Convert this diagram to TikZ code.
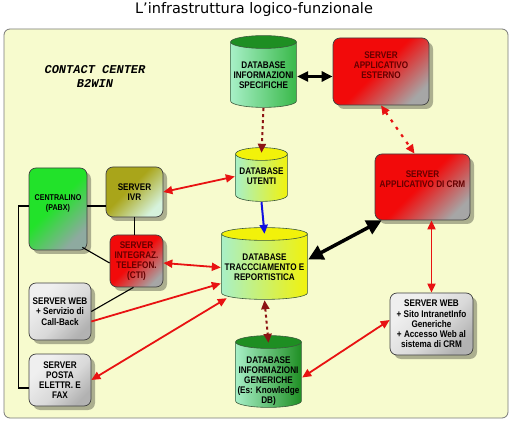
\documentclass[tikz,border=0pt]{standalone}
\usepackage{fontspec}
\setmainfont{Liberation Sans}
\newfontfamily\boxfont[FakeStretch=0.85]{Liberation Sans}
\newfontfamily\titlefont{DejaVu Sans}
\newfontfamily\ccfont{Liberation Mono}
\usetikzlibrary{arrows.meta,shadows,calc}
\definecolor{panelfill}{HTML}{F7FBCE}
\definecolor{panelline}{HTML}{7A7A7A}
\definecolor{srvred}{HTML}{F20A0A}
\definecolor{fadegray}{HTML}{A6A6A6}
\definecolor{pabxgreen}{HTML}{22E22A}
\definecolor{pabxfade}{HTML}{8EAAA0}
\definecolor{ivrolive}{HTML}{A9A51A}
\definecolor{ivrfade}{HTML}{D6F2DC}
\definecolor{greylight}{HTML}{EFEFEF}
\definecolor{greymid}{HTML}{D9D9D9}
\definecolor{greydark}{HTML}{B2B2B2}
\definecolor{srvtext}{HTML}{640000}
\definecolor{dbgreen}{HTML}{1E8E22}
\definecolor{dbmint}{HTML}{A8F0C8}
\definecolor{dbleaf}{HTML}{38B848}
\definecolor{dbyellow}{HTML}{F2F20A}
\definecolor{dbedge}{HTML}{3C5A3C}
\definecolor{linkred}{HTML}{E81212}
\definecolor{linkmaroon}{HTML}{8C1414}
\definecolor{linkblue}{HTML}{1010E0}
\pgfdeclarehorizontalshading{redfade}{100bp}{color(0bp)=(srvred); color(48bp)=(srvred); color(76bp)=(fadegray); color(100bp)=(fadegray)}
\pgfdeclarehorizontalshading{pabxfade}{100bp}{color(0bp)=(pabxgreen); color(46bp)=(pabxgreen); color(74bp)=(pabxfade); color(100bp)=(pabxfade)}
\pgfdeclarehorizontalshading{ivrfade}{100bp}{color(0bp)=(ivrolive); color(44bp)=(ivrolive); color(74bp)=(ivrfade); color(100bp)=(ivrfade)}
\pgfdeclarehorizontalshading{greyfade}{100bp}{color(0bp)=(greylight); color(30bp)=(greylight); color(55bp)=(greymid); color(75bp)=(greydark); color(100bp)=(greydark)}
\newcommand{\padtop}[1]{\rule{0pt}{#1}}
\newcommand{\padbot}[1]{\rule[-#1]{0pt}{#1}}

\begin{document}
\begin{tikzpicture}[x=1pt, y=1pt, >={Triangle[length=9pt,width=8pt]},
  srvbox/.style={rectangle, rounded corners=7pt, draw=black!75, line width=0.7pt,
    align=center, inner sep=1pt, shade, shading angle=-45,
    font=\boxfont\bfseries\fontsize{9.6}{10.2}\selectfont,
    drop shadow={shadow xshift=4pt, shadow yshift=-4pt, opacity=0.3, fill=black}},
  redsrv/.style={srvbox, shading=redfade, text=srvtext},
  greensrv/.style={srvbox, shading=pabxfade},
  olivesrv/.style={srvbox, shading=ivrfade},
  greysrv/.style={srvbox, shading=greyfade},
  dbcyl/.style n args={3}{rectangle, inner sep=1pt, align=center,
    font=\boxfont\bfseries\fontsize{9.6}{10}\selectfont,
    path picture={
      \shade[left color=#2, right color=#3, draw=dbedge, line width=0.6pt]
        let \p1=(path picture bounding box.north west),
            \p2=(path picture bounding box.south east),
            \n1={(\x2-\x1)/2-0.6pt} in
        (\x1+0.6pt,\y1-7pt) -- (\x1+0.6pt,\y2+7pt)
        arc[start angle=180, end angle=360, x radius=\n1, y radius=6.4pt]
        -- (\x2-0.6pt,\y1-7pt) -- cycle;
      \filldraw[fill=#1, draw=dbedge, line width=0.6pt]
        let \p1=(path picture bounding box.north west),
            \p2=(path picture bounding box.south east),
            \n1={(\x2-\x1)/2-0.6pt} in
        ({(\x1+\x2)/2},\y1-7pt) ellipse[x radius=\n1, y radius=6.4pt];
    }},
  wire/.style={black, line width=1.1pt},
  redlink/.style={linkred, line width=1.8pt},
  dotlink/.style={linkred, line width=2.2pt, dash pattern=on 3pt off 6pt},
  maroonlink/.style={linkmaroon, line width=2pt, dash pattern=on 3pt off 3pt},
  bluelink/.style={linkblue, line width=2pt},
  blacklink/.style={black, line width=3pt}]

  \useasboundingbox (0,0) rectangle (514,426);
  \fill[white] (0,0) rectangle (514,426);
  \draw[panelline, fill=panelfill, rounded corners=6pt, line width=0.8pt] (4,8) rectangle (508,397);

  \node[font=\titlefont\fontsize{14.5}{16}\selectfont] (title) at (254,416) {L’infrastruttura logico-funzionale};
  \node[font=\ccfont\bfseries\itshape\fontsize{12}{14}\selectfont, align=center] (contact) at (95,350) {CONTACT CENTER\\B2WIN};

  % server boxes
  \node[redsrv, minimum width=96, minimum height=67] (extsrv) at (381,354.5) {SERVER\\APPLICATIVO\\ESTERNO\padbot{13pt}};
  \node[redsrv, minimum width=95, minimum height=66] (crm) at (422.5,239) {SERVER\\APPLICATIVO DI CRM\padbot{15pt}};
  \node[greysrv, minimum width=83, minimum height=62] (webright) at (431.5,102) {SERVER WEB\\+ Sito IntranetInfo\\Generiche\\+ Accesso Web al\\sistema di CRM};
  \node[greensrv, minimum width=58, minimum height=82, font=\boxfont\bfseries\fontsize{8.4}{10.2}\selectfont] (pabx) at (58,217) {CENTRALINO\\(PABX)\padbot{13pt}};
  \node[olivesrv, minimum width=57, minimum height=50] (ivr) at (134.5,234) {SERVER\\IVR};
  \node[redsrv, minimum width=53, minimum height=52] (cti) at (136.5,165) {SERVER\\INTEGRAZ.\\TELEFON.\\(CTI)};
  \node[greysrv, minimum width=62, minimum height=57] (webleft) at (60,114.5) {SERVER WEB\\+ Servizio di\\Call-Back};
  \node[greysrv, minimum width=62, minimum height=52] (posta) at (60,46) {SERVER\\POSTA\\ELETTR. E\\FAX};

  % databases
  \node[dbcyl={dbgreen}{dbmint}{dbleaf}, minimum width=67, minimum height=73] (dbspec) at (263.5,354.5) {\padtop{14pt}DATABASE\\INFORMAZIONI\\SPECIFICHE};
  \node[dbcyl={dbyellow}{dbmint}{dbyellow}, minimum width=53, minimum height=55] (dbusers) at (261.5,251.5) {\padtop{10pt}DATABASE\\UTENTI};
  \node[dbcyl={dbyellow}{dbmint}{dbyellow}, minimum width=87, minimum height=73] (dbtrack) at (264.5,162.5) {\padtop{15pt}DATABASE\\TRACCCIAMENTO E\\REPORTISTICA};
  \node[dbcyl={dbgreen}{dbmint}{dbgreen}, minimum width=67, minimum height=73] (dbgen) at (268.5,54.5) {\padtop{25pt}DATABASE\\INFORMAZIONI\\GENERICHE\\(Es: Knowledge\\DB)};

  % telephony wiring
  \draw[wire] ([yshift=-14pt]ivr.west) -- ([yshift=-14pt]ivr.west -| pabx.east);
  \draw[wire] (ivr.south) -- (ivr.south |- cti.north);
  \draw[wire] ([xshift=-5pt,yshift=3pt]pabx.south east) -- ([yshift=-2pt]cti.west);
  \draw[wire] ([xshift=-3pt]cti.south) -- (webleft.east);
  \draw[wire] ([yshift=3pt]pabx.west) -- ++(-10,0) |- ([yshift=-8pt]posta.west);

  % data links
  \draw[blacklink, <->, >={Triangle[length=11pt,width=10pt]}] ([yshift=-5pt]dbspec.east) -- ([yshift=-5pt]extsrv.west);
  \draw[maroonlink, ->] (dbspec.south) -- ([yshift=-6pt]dbusers.north);
  \draw[bluelink, ->] (dbusers.south) -- ([yshift=-7pt]dbtrack.north);
  \draw[maroonlink, <->] (dbtrack.south) -- ([yshift=-8pt]dbgen.north);
  \draw[dotlink, <->] (extsrv.south) -- ([xshift=-8pt]crm.north);
  \draw[blacklink, <->, line width=3.5pt, >={Triangle[length=15pt,width=15pt]}] ([yshift=4pt]dbtrack.east) -- ([xshift=7pt]crm.south west);
  \draw[redlink, <->] (webright.north |- crm.south) -- (webright.north);
  \draw[redlink, <->] ([yshift=4pt]webright.west) -- ([yshift=-6pt]dbgen.east);
  \draw[redlink, <->] (ivr.east) -- ([yshift=-2pt]dbusers.west);
  \draw[redlink, <->] ([yshift=-2pt]cti.east) -- ([yshift=-4pt]dbtrack.west);
  \draw[redlink, ->] ([yshift=-10pt]webleft.east) -- ([yshift=-20pt]dbtrack.west);
  \draw[redlink, <->] (posta.east) -- ([xshift=6pt,yshift=2pt]dbtrack.south west);
\end{tikzpicture}
\end{document}
